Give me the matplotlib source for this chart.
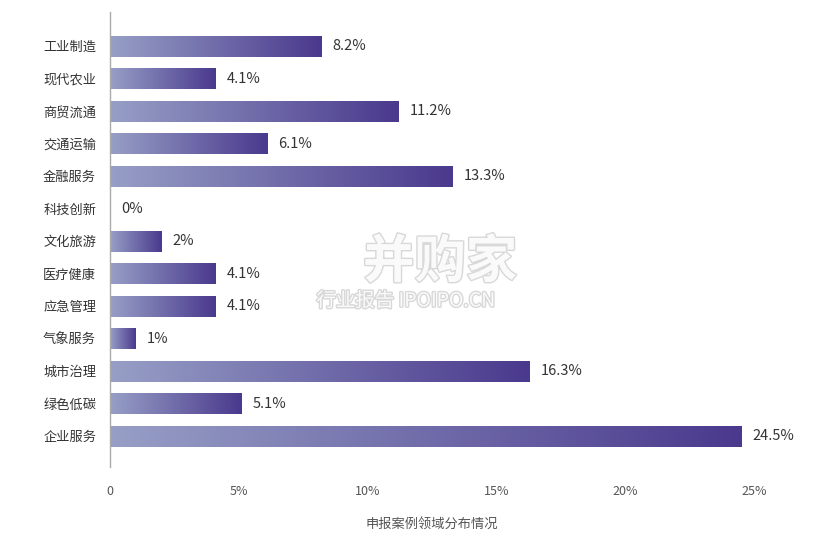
import numpy as np
import matplotlib
matplotlib.use('Agg')
import matplotlib.pyplot as plt
import matplotlib.patheffects as pe
from matplotlib.colors import LinearSegmentedColormap

plt.rcParams['font.family'] = ['Noto Sans CJK SC', 'DejaVu Sans']

# data, top to bottom
categories = ['工业制造', '现代农业', '商贸流通', '交通运输', '金融服务', '科技创新', '文化旅游',
              '医疗健康', '应急管理', '气象服务', '城市治理', '绿色低碳', '企业服务']
values = [8.2, 4.1, 11.2, 6.1, 13.3, 0, 2, 4.1, 4.1, 1, 16.3, 5.1, 24.5]
xticks = [0, 5, 10, 15, 20, 25]
xtick_labels = ['0', '5%', '10%', '15%', '20%', '25%']
xlabel = '申报案例领域分布情况'

cmap = LinearSegmentedColormap.from_list('bar', ['#979fc6', '#4a398d'])
grad = np.linspace(0, 1, 256).reshape(1, -1)

fig = plt.figure(figsize=(8.16, 5.46), dpi=100)
ax = fig.add_axes([110 / 816, 1 - 467 / 546, 644 / 816, 455 / 546])

h = 0.64
for i, v in enumerate(values):
    if v > 0:
        ax.imshow(grad, cmap=cmap, aspect='auto', interpolation='bicubic',
                  extent=[0, v, i + h / 2, i - h / 2], zorder=2)
    ax.annotate(f'{v:g}%', xy=(v, i), xytext=(8, 0), textcoords='offset points',
                va='center', ha='left', fontsize=10.5, color='#333333', clip_on=False)

ax.set_xlim(0, 25)
ax.set_ylim(12.95, -1.05)
ax.set_yticks(range(len(categories)))
ax.set_yticklabels(categories, fontsize=9.5, color='#333333')
ax.set_xticks(xticks)
ax.set_xticklabels(xtick_labels, fontsize=9, color='#555555')
ax.tick_params(axis='y', length=0, pad=10)
ax.tick_params(axis='x', length=0, pad=13)
ax.set_xlabel(xlabel, fontsize=9.5, color='#555555', labelpad=14)

for s in ['top', 'right', 'bottom']:
    ax.spines[s].set_visible(False)
ax.spines['left'].set_color('#aaaaaa')
ax.spines['left'].set_linewidth(1.0)

# watermark
shadow = [pe.withStroke(linewidth=2, foreground='#d8d8d8')]
fig.text(440 / 816, 1 - 262 / 546, '并购家', fontsize=37, color='#fafafa',
         ha='center', va='center', fontweight='bold', path_effects=shadow, zorder=5)
fig.text(406 / 816, 1 - 301 / 546, '行业报告 IPOIPO.CN', fontsize=14, color='#fafafa',
         ha='center', va='center', path_effects=shadow, zorder=5)

fig.savefig('out.png', dpi=100, facecolor='white')
